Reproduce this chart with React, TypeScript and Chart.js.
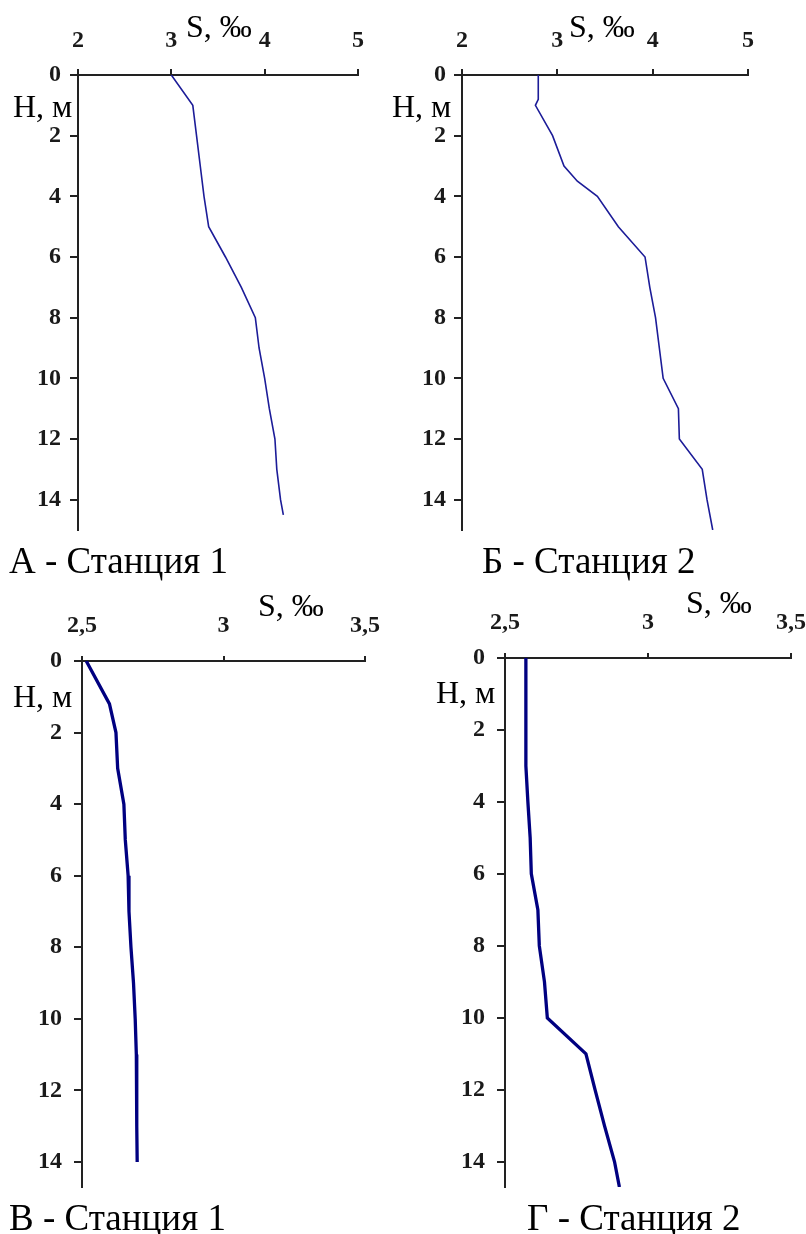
import React, { useEffect, useRef } from 'react';
import { Chart, registerables } from 'chart.js';

Chart.register(...registerables);

// ---- data ----
const depthTicks = [0, 2, 4, 6, 8, 10, 12, 14];
const salinityTicksTop = [2, 3, 4, 5];
const salinityTicksBottom = [2.5, 3, 3.5];

// А - Станция 1
const depthA = [0, 1, 2, 3, 4, 5, 6, 7, 8, 9, 10, 11, 12, 13, 14, 14.5];
const salinityA = [3.0, 3.23, 3.27, 3.31, 3.35, 3.4, 3.58, 3.75, 3.9, 3.94, 4.0, 4.05, 4.11, 4.13, 4.17, 4.2];

// Б - Станция 2
const depthB = [0, 0.8, 1, 2, 3, 3.5, 4, 5, 6, 7, 8, 9, 10, 11, 12, 13, 14, 15];
const salinityB = [2.8, 2.8, 2.77, 2.95, 3.07, 3.21, 3.42, 3.64, 3.92, 3.97, 4.03, 4.07, 4.11, 4.27, 4.28, 4.52, 4.57, 4.63];

// В - Станция 1
const depthC = [0, 1.2, 2, 3, 4, 5, 6, 7, 8, 9, 10, 11, 12, 13, 14];
const salinityC = [2.515, 2.597, 2.62, 2.626, 2.648, 2.653, 2.663, 2.666, 2.673, 2.682, 2.688, 2.692, 2.693, 2.694, 2.695];

// Г - Станция 2
const depthD = [0, 3, 4, 5, 6, 7, 8, 9, 10, 11, 12, 13, 14, 14.7];
const salinityD = [2.573, 2.573, 2.58, 2.588, 2.592, 2.615, 2.62, 2.638, 2.648, 2.783, 2.815, 2.848, 2.883, 2.9];

const xTitle = 'S, ‰';
const yTitle = 'H, м';
const captions = ['А - Станция 1', 'Б - Станция 2', 'В - Станция 1', 'Г - Станция 2'];

const FONT = "'Liberation Serif', 'Times New Roman', serif";
const AXIS = '#222222';

type PanelProps = {
  left: number; top: number; width: number; height: number;
  xMin: number; xMax: number; yMax: number; xTicks: number[];
  xs: number[]; ys: number[];
  color: string; lineWidth: number;
  xAxisH: number; yAxisW: number; padRight: number; padBottom: number;
  xTickLen: number; yTickLen: number; xPad: number; yPad: number;
};

function Panel(p: PanelProps) {
  const ref = useRef<HTMLCanvasElement | null>(null);
  useEffect(() => {
    if (!ref.current) return;
    const fmt = (v: any) => String(v).replace('.', ',');
    const chart = new Chart(ref.current, {
      type: 'line',
      data: {
        datasets: [
          {
            data: p.xs.map((x, i) => ({ x, y: p.ys[i] })),
            borderColor: p.color,
            borderWidth: p.lineWidth,
            pointRadius: 0,
            tension: 0,
            fill: false,
          },
        ],
      },
      options: {
        animation: false,
        responsive: false,
        devicePixelRatio: 1,
        events: [],
        layout: { padding: { left: 0, top: 0, right: p.padRight, bottom: p.padBottom } },
        plugins: { legend: { display: false }, tooltip: { enabled: false }, title: { display: false } },
        scales: {
          x: {
            type: 'linear',
            position: 'top',
            min: p.xMin,
            max: p.xMax,
            afterBuildTicks: (s: any) => {
              s.ticks = p.xTicks.map((v) => ({ value: v }));
            },
            afterFit: (s: any) => {
              s.height = p.xAxisH;
              s.paddingLeft = 0; s.paddingRight = 0; s.paddingTop = 0; s.paddingBottom = 0;
            },
            grid: { drawOnChartArea: false, drawTicks: true, tickLength: p.xTickLen, color: AXIS, lineWidth: 2 },
            border: { display: true, color: AXIS, width: 2 },
            ticks: {
              autoSkip: false,
              maxRotation: 0,
              padding: p.xPad,
              color: '#1a1a1a',
              font: { family: FONT, size: 24, weight: 'bold' },
              callback: (v: any) => fmt(v),
            },
          },
          y: {
            type: 'linear',
            reverse: true,
            min: 0,
            max: p.yMax,
            afterBuildTicks: (s: any) => {
              s.ticks = depthTicks.map((v) => ({ value: v }));
            },
            afterFit: (s: any) => {
              s.width = p.yAxisW;
              s.paddingLeft = 0; s.paddingRight = 0; s.paddingTop = 0; s.paddingBottom = 0;
            },
            grid: { drawOnChartArea: false, drawTicks: true, tickLength: p.yTickLen, color: AXIS, lineWidth: 2 },
            border: { display: true, color: AXIS, width: 2 },
            ticks: {
              autoSkip: false,
              padding: p.yPad,
              color: '#1a1a1a',
              font: { family: FONT, size: 24, weight: 'bold' },
              callback: (v: any) => String(v),
            },
          },
        },
      },
    } as any);
    return () => chart.destroy();
  }, []);
  return (
    <canvas
      ref={ref}
      width={p.width}
      height={p.height}
      style={{ position: 'absolute', left: p.left, top: p.top, width: p.width, height: p.height, display: 'block' }}
    />
  );
}

function Label({ text, left, top, size }: { text: string; left: number; top: number; size: number }) {
  return (
    <div
      style={{
        position: 'absolute',
        left,
        top,
        fontFamily: FONT,
        fontSize: size,
        lineHeight: `${size}px`,
        whiteSpace: 'nowrap',
        color: '#000',
      }}
    >
      {text}
    </div>
  );
}

export default function App() {
  return (
    <div style={{ position: 'absolute', left: 0, top: 0, width: 806, height: 1234, background: '#fff', overflow: 'hidden' }}>
      <Panel
        left={0} top={0} width={403} height={560}
        xMin={2} xMax={5} yMax={15} xTicks={salinityTicksTop}
        xs={salinityA} ys={depthA} color="#1c1c98" lineWidth={1.6}
        xAxisH={75} yAxisW={78} padRight={45} padBottom={30}
        xTickLen={6} yTickLen={8} xPad={14} yPad={9}
      />
      <Panel
        left={403} top={0} width={403} height={560}
        xMin={2} xMax={5} yMax={15} xTicks={salinityTicksTop}
        xs={salinityB} ys={depthB} color="#1c1c98" lineWidth={1.6}
        xAxisH={75} yAxisW={59} padRight={58} padBottom={30}
        xTickLen={6} yTickLen={8} xPad={14} yPad={8}
      />
      <Panel
        left={0} top={580} width={403} height={640}
        xMin={2.5} xMax={3.5} yMax={14.7} xTicks={salinityTicksBottom}
        xs={salinityC} ys={depthC} color="#000080" lineWidth={3.3}
        xAxisH={81} yAxisW={82} padRight={38} padBottom={33}
        xTickLen={5} yTickLen={8} xPad={16} yPad={12}
      />
      <Panel
        left={403} top={580} width={403} height={640}
        xMin={2.5} xMax={3.5} yMax={14.7} xTicks={salinityTicksBottom}
        xs={salinityD} ys={depthD} color="#000080" lineWidth={3.3}
        xAxisH={78} yAxisW={102} padRight={15} padBottom={33}
        xTickLen={5} yTickLen={8} xPad={16} yPad={12}
      />

      <Label text={xTitle} left={186} top={10} size={32} />
      <Label text={xTitle} left={569} top={10} size={32} />
      <Label text={xTitle} left={258} top={589} size={32} />
      <Label text={xTitle} left={686} top={586} size={32} />

      <Label text={yTitle} left={13} top={90} size={32} />
      <Label text={yTitle} left={392} top={90} size={32} />
      <Label text={yTitle} left={13} top={680} size={32} />
      <Label text={yTitle} left={436} top={676} size={32} />

      <Label text={captions[0]} left={9} top={542} size={37} />
      <Label text={captions[1]} left={482} top={542} size={37} />
      <Label text={captions[2]} left={9} top={1199} size={37} />
      <Label text={captions[3]} left={527} top={1199} size={37} />
    </div>
  );
}
